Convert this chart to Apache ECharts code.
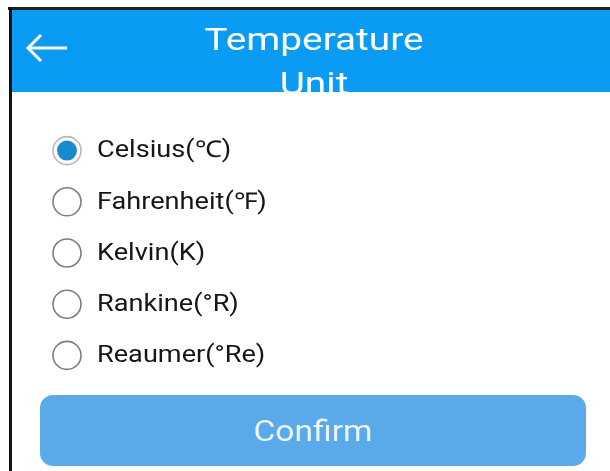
<!DOCTYPE html>
<html>
<head>
<meta charset="utf-8">
<script src="https://cdn.jsdelivr.net/npm/echarts@6/dist/echarts.min.js"></script>
<style>
  html, body { margin: 0; padding: 0; background: #fff; }
  #main { width: 610px; height: 471px; }
</style>
</head>
<body>
<div id="main"></div>
<script>
// 选项数据
var titleLines = ['Temperature', 'Unit'];
var units = ['Celsius(℃)', 'Fahrenheit(℉)', 'Kelvin(K)', 'Rankine(°R)', 'Reaumer(°Re)'];
var selectedIndex = 0;
var buttonText = 'Confirm';

var myChart = echarts.init(document.getElementById('main'));

// 每个选项一个点，位置由类目轴决定
var ringData = units.map(function (u, i) {
  return {
    value: [0, u],
    itemStyle: {
      borderColor: i === selectedIndex ? '#b8b8b8' : '#7e7e7e'
    }
  };
});
var dotData = units
  .filter(function (u, i) { return i === selectedIndex; })
  .map(function (u) { return [0, u]; });

var graphics = [
  // 顶部蓝色栏
  { type: 'rect', shape: { x: 11, y: 10, width: 610, height: 82 }, style: { fill: '#0a9bf5' }, z: 1 },
  // 黑色边框
  { type: 'rect', shape: { x: 8, y: 7, width: 610, height: 3 }, style: { fill: '#1e1e1e' }, z: 5 },
  { type: 'rect', shape: { x: 9, y: 7, width: 3, height: 471 }, style: { fill: '#111111' }, z: 5 },
  // 返回箭头
  {
    type: 'polyline',
    shape: { points: [[41, 35], [28, 48], [41, 61]] },
    style: { stroke: '#ffffff', lineWidth: 3, fill: null },
    z: 4
  },
  {
    type: 'line',
    shape: { x1: 28, y1: 48, x2: 67, y2: 48 },
    style: { stroke: '#ffffff', lineWidth: 3 },
    z: 4
  },
  // 标题（原图横向拉伸，用 scaleX 近似）
  {
    type: 'text',
    x: 314, y: 42, scaleX: 1.25,
    style: {
      text: titleLines[0], fill: '#ffffff', fontFamily: 'Roboto', fontSize: 31,
      align: 'center', verticalAlign: 'middle'
    },
    z: 4
  },
  {
    type: 'text',
    x: 314, y: 86, scaleX: 1.25,
    style: {
      text: titleLines[1], fill: '#ffffff', fontFamily: 'Roboto', fontSize: 31,
      align: 'center', verticalAlign: 'middle'
    },
    z: 4
  },
  // 盖住标题栏下方的溢出
  { type: 'rect', shape: { x: 12, y: 92, width: 610, height: 20 }, style: { fill: '#ffffff' }, z: 4 },
  // 确认按钮
  {
    type: 'rect',
    shape: { x: 40, y: 395, width: 546, height: 71, r: 13 },
    style: { fill: '#5aa9e9' },
    z: 4
  },
  {
    type: 'text',
    x: 313, y: 434, scaleX: 1.16,
    style: {
      text: buttonText, fill: '#eaf4fd', fontFamily: 'Roboto', fontSize: 29,
      align: 'center', verticalAlign: 'middle'
    },
    z: 5
  }
];

var option = {
  backgroundColor: '#ffffff',
  animation: false,
  grid: { left: 67, top: 125, width: 100, height: 256 },
  xAxis: { type: 'value', min: 0, max: 1, show: false },
  yAxis: { type: 'category', data: units, inverse: true, show: false },
  series: [
    {
      // 外圈
      type: 'scatter',
      symbol: 'circle',
      symbolSize: 28,
      data: ringData,
      itemStyle: { color: '#ffffff', borderWidth: 1.6, opacity: 1 },
      silent: true,
      z: 2
    },
    {
      // 选中点
      type: 'scatter',
      symbol: 'circle',
      symbolSize: 20,
      data: dotData,
      itemStyle: { color: '#168ccf', opacity: 1 },
      silent: true,
      z: 3
    }
  ],
  graphic: graphics
};

myChart.setOption(option);

// 选项文字：用坐标轴换算出的位置放置，并横向拉伸
var labelGraphics = units.map(function (u) {
  var p = myChart.convertToPixel({ gridIndex: 0 }, [0, u]);
  return {
    type: 'text',
    x: p[0] + 30, y: p[1] + 1, scaleX: 1.18,
    style: {
      text: u, fill: '#161616', fontFamily: 'Roboto', fontSize: 23,
      align: 'left', verticalAlign: 'middle'
    },
    z: 5
  };
});
myChart.setOption({ graphic: graphics.concat(labelGraphics) });
</script>
</body>
</html>
